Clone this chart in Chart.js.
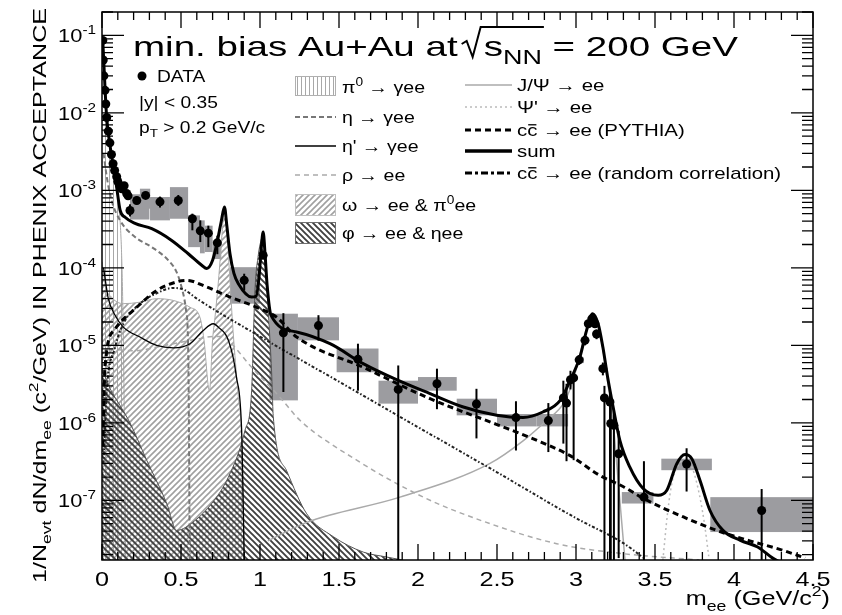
<!DOCTYPE html>
<html>
<head>
<meta charset="utf-8">
<script src="https://cdn.jsdelivr.net/npm/chart.js@4.4.1/dist/chart.umd.min.js"></script>
<style>
  body { margin: 0; background: #fff; }
  canvas { display: block; }
</style>
</head>
<body>
<canvas id="mee" width="842" height="615"></canvas>
<script>
/*-- data --*/

// measured points
var massPts  = [0.005,0.008,0.012,0.019,0.024,0.03,0.04,0.05,0.06,0.07,0.08,0.093,0.1,0.114,0.125,0.133,0.14,0.156,0.165,0.177,0.22,0.276,0.367,0.483,0.572,0.622,0.673,0.73,0.9,1.02,1.148,1.37,1.62,1.875,2.12,2.37,2.62,2.825,2.92,2.94,2.965,2.985,3.02,3.057,3.078,3.10,3.12,3.13,3.17,3.18,3.215,3.22,3.24,3.27,3.43,3.70,4.175];
var yieldPts = [8.6e-2,4.8e-2,3.0e-2,1.95e-2,1.3e-2,8.7e-3,5.8e-3,4.1e-3,2.9e-3,2.2e-3,1.8e-3,1.5e-3,1.3e-3,1.15e-3,1.05e-3,1.1e-3,1.15e-3,9.1e-4,8.5e-4,5.5e-4,7.4e-4,8.6e-4,7.1e-4,7.4e-4,4.3e-4,3.0e-4,2.8e-4,2.1e-4,6.9e-5,1.45e-4,1.45e-5,1.8e-5,6.6e-6,2.7e-6,3.2e-6,1.75e-6,1.17e-6,1.07e-6,2.1e-6,1.8e-6,3.6e-6,3.8e-6,6.5e-6,1.16e-5,1.9e-5,2.2e-5,1.9e-5,1.4e-5,5.0e-6,2.1e-6,1.86e-6,9.8e-7,9.3e-7,4.0e-7,1.1e-7,2.95e-7,7.4e-8];
var statHi   = [null,null,null,null,null,null,null,null,null,null,null,null,null,null,null,null,null,null,null,6.6e-4,8.3e-4,9.5e-4,8.3e-4,8.7e-4,5.0e-4,4.1e-4,3.5e-4,2.6e-4,8.4e-5,1.6e-4,2.6e-5,2.45e-5,1.05e-5,5.5e-6,5.0e-6,2.75e-6,1.9e-6,1.8e-6,3.5e-6,3.2e-6,4.7e-6,4.4e-6,7.5e-6,1.3e-5,2.1e-5,2.4e-5,2.1e-5,1.6e-5,6.0e-6,3.0e-6,2.5e-6,1.7e-6,1.45e-6,7.9e-7,3.2e-7,4.7e-7,1.4e-7];
var statLo   = [null,null,null,null,null,null,null,null,null,null,null,null,null,null,null,null,null,null,null,4.6e-4,6.6e-4,7.8e-4,6.0e-4,6.3e-4,3.05e-4,2.15e-4,1.85e-4,1.5e-4,5.1e-5,1.3e-4,2.5e-6,1.15e-5,2.6e-6,1e-9,1.5e-6,6.3e-7,4.4e-7,4.2e-7,5.4e-7,3.2e-7,2.7e-6,3.3e-7,5.6e-6,1.0e-5,1.7e-5,2.0e-5,1.7e-5,1.2e-5,4.1e-6,1e-9,1e-9,1e-9,1e-9,1.8e-8,1e-9,1.3e-7,1e-9];

// systematic boxes
var sysMassLo = [0.177,0.24,0.304,0.43,0.545,0.62,0.65,0.70,0.81,1.06,1.24,1.485,1.75,2.0,2.245,2.5,2.75,3.0,3.29,3.54,3.85];
var sysMassHi = [0.30,0.305,0.43,0.545,0.62,0.65,0.70,0.755,1.0,1.24,1.5,1.75,2.0,2.245,2.5,2.75,2.95,3.05,3.49,3.86,4.5];
var sysHi     = [8.9e-4,1.05e-3,8.2e-4,1.1e-3,4.75e-4,4.1e-4,3.5e-4,2.26e-4,1.02e-4,2.56e-5,2.3e-5,9.1e-6,3.5e-6,3.9e-6,2.05e-6,1.3e-6,1.3e-6,7.0e-6,1.28e-7,3.45e-7,1.1e-7];
var sysLo     = [4.2e-4,5.8e-4,4.1e-4,4.3e-4,1.85e-4,1.54e-4,1.6e-4,1.3e-4,3.45e-5,1.95e-6,1.16e-5,4.5e-6,1.77e-6,2.6e-6,1.25e-6,9.0e-7,9.0e-7,5.9e-6,9.1e-8,2.45e-7,3.9e-8];

// cocktail components
var pi0M = [0.0,0.005,0.01,0.02,0.03,0.05,0.07,0.09,0.105,0.12,0.13,0.14,0.15];
var pi0Y = [9.5e-2,8.0e-2,5.0e-2,1.9e-2,8.3e-3,3.7e-3,1.9e-3,1.1e-3,6.5e-4,2.5e-4,5e-5,2e-6,1.7e-8];

var etaM = [0.01,0.03,0.06,0.114,0.209,0.315,0.42,0.47,0.504,0.53,0.545,0.55,0.555];
var etaY = [3.0e-3,1.5e-3,7.5e-4,4.1e-4,2.5e-4,1.85e-4,1.25e-4,9e-5,5.6e-5,3.0e-5,1.0e-5,1e-6,1.7e-8];

var etapM = [0.01,0.04,0.08,0.135,0.24,0.346,0.451,0.557,0.641,0.704,0.736,0.8,0.85,0.886,0.9];
var etapY = [1.0e-4,4.0e-5,2.5e-5,1.72e-5,1.28e-5,1.0e-5,9.3e-6,1.05e-5,1.56e-5,1.9e-5,1.72e-5,1.16e-5,4e-6,5.9e-7,1.7e-8];

var rhoM = [0.05,0.2,0.4,0.6,0.7,0.77,0.83,0.937,1.127,1.253,1.612,2.034,2.456,2.878,3.3,3.78];
var rhoY = [9e-6,8.5e-6,1.0e-5,1.2e-5,1.3e-5,1.3e-5,1.0e-5,5.5e-6,2.13e-6,1.08e-6,3.3e-7,1.1e-7,5.0e-8,2.76e-8,2.05e-8,1.7e-8];

var omegaM = [0.0,0.02,0.06,0.135,0.24,0.346,0.451,0.557,0.62,0.645,0.68,0.70,0.715,0.74,0.76,0.775,0.79,0.805,0.83,0.86,0.884,0.9];
var omegaY = [1.2e-4,6.0e-5,4.2e-5,3.45e-5,3.6e-5,4.0e-5,3.8e-5,3.1e-5,2.3e-5,1.2e-5,2.6e-6,1.2e-5,2.3e-5,8e-5,2.8e-4,5.8e-4,3.5e-4,1.0e-4,1.5e-5,2.5e-6,5.9e-7,1.7e-8];

var phiM = [0.0,0.05,0.12,0.177,0.283,0.41,0.473,0.589,0.694,0.8,0.905,0.947,0.968,0.99,1.005,1.02,1.035,1.05,1.074,1.084,1.169,1.296,1.464,1.654,1.8,1.9];
var phiY = [5e-6,2.8e-6,1.6e-6,1.0e-6,3.3e-7,9.1e-8,4.1e-8,5.5e-8,9.1e-8,2.0e-7,8.0e-7,2.6e-6,5.1e-5,1.5e-4,2.2e-4,2.7e-4,1.5e-4,3.5e-5,4.3e-6,1.2e-6,2.4e-7,6.7e-8,3.4e-8,2.15e-8,1.86e-8,1.7e-8];

var jpsiM = [1.05,1.296,1.886,2.456,2.667,2.815,2.92,2.97,3.02,3.06,3.1,3.14,3.17,3.2,3.235,3.27,3.31];
var jpsiY = [3.0e-8,5.2e-8,1.1e-7,3.0e-7,5.9e-7,1.08e-6,1.77e-6,3.0e-6,6.8e-6,1.45e-5,2.4e-5,1.8e-5,9.0e-6,3.4e-6,1.0e-6,1.5e-7,1.7e-8];

var psipM = [3.55,3.58,3.61,3.65,3.69,3.73,3.77,3.81,3.84];
var psipY = [1.7e-8,7e-8,1.8e-7,2.9e-7,3.3e-7,2.8e-7,1.5e-7,5.5e-8,1.9e-8];

var ccM = [0.005,0.019,0.08,0.22,0.346,0.473,0.536,0.663,0.81,0.979,1.106,1.232,1.654,2.076,2.5,2.73,2.96,3.15,3.3,3.43,3.68,3.89,4.1,4.3,4.45];
var ccY = [5e-7,5.2e-6,1.6e-5,3.1e-5,5.1e-5,6.6e-5,6.9e-5,5.65e-5,4.2e-5,3.1e-5,2.3e-5,1.28e-5,5.2e-6,2.05e-6,9.5e-7,6.2e-7,3.8e-7,2.1e-7,1.5e-7,1.05e-7,6.1e-8,4.1e-8,3.0e-8,2.3e-8,1.8e-8];

var rcM = [0.01,0.03,0.08,0.135,0.24,0.346,0.45,0.52,0.6,1.0,1.5,2.0,2.5,3.0,3.3,3.43];
var rcY = [3e-7,2.6e-6,9e-6,1.9e-5,3.45e-5,4.7e-5,5.5e-5,5.2e-5,4.0e-5,1.3e-5,3.4e-6,8.8e-7,2.3e-7,5.9e-8,2.8e-8,1.8e-8];

var sumM = [0.005,0.02,0.03,0.05,0.07,0.09,0.115,0.146,0.209,0.315,0.441,0.546,0.631,0.663,0.7,0.73,0.755,0.775,0.79,0.81,0.835,0.863,0.947,0.975,0.995,1.008,1.02,1.032,1.045,1.07,1.232,1.443,1.653,1.864,2.076,2.287,2.498,2.665,2.79,2.9,2.962,3.025,3.067,3.105,3.14,3.17,3.2,3.235,3.278,3.34,3.425,3.52,3.575,3.638,3.69,3.733,3.785,3.848,3.93,4.04,4.15,4.25,4.35];
var sumY = [8.6e-2,1.9e-2,8.5e-3,3.9e-3,2.1e-3,1.2e-3,5.5e-4,4.5e-4,3.75e-4,3.2e-4,2.26e-4,1.52e-4,1.08e-4,9.8e-5,1.25e-4,2.2e-4,4.0e-4,6.1e-4,3.5e-4,1.52e-4,8.5e-5,6.25e-5,4.2e-5,4.3e-5,8e-5,1.8e-4,2.9e-4,1.5e-4,6e-5,2.44e-5,1.49e-5,1.05e-5,5.8e-6,3.6e-6,2.38e-6,1.6e-6,1.25e-6,1.17e-6,1.38e-6,1.95e-6,3.5e-6,7.1e-6,1.56e-5,2.56e-5,1.9e-5,9.5e-6,3.9e-6,1.6e-6,5.9e-7,2.7e-7,1.42e-7,1.16e-7,1.35e-7,2.97e-7,3.9e-7,3.45e-7,1.8e-7,7.4e-8,4.1e-8,3.05e-8,2.5e-8,1.77e-8,1.4e-8];

// axis
var xTickLabels = ["0","0.5","1","1.5","2","2.5","3","3.5","4","4.5"];
var yDecades = [-7,-6,-5,-4,-3,-2,-1];


/*-- look --*/
var FONT = '"Liberation Sans", Arial, Helvetica, sans-serif';
var SX = 1.2;   // the reference is stretched sideways

function hatch(w, h, color, lw, draw) {
    var c = document.createElement('canvas');
    c.width = w; c.height = h;
    var g = c.getContext('2d');
    g.strokeStyle = color;
    g.lineWidth = lw;
    g.beginPath();
    draw(g);
    g.stroke();
    return g.createPattern(c, 'repeat');
}
var patPi0 = hatch(4, 4, '#a8a8a8', 1, function(g){ g.moveTo(1.5,0); g.lineTo(1.5,4); });
var patOmega = hatch(6, 6, '#a0a0a0', 1.6, function(g){
    g.moveTo(0,6); g.lineTo(6,0); g.moveTo(-3,3); g.lineTo(3,-3); g.moveTo(3,9); g.lineTo(9,3);
});
var patPhi = hatch(6, 6, '#404040', 1.9, function(g){
    g.moveTo(0,0); g.lineTo(6,6); g.moveTo(-3,3); g.lineTo(3,9); g.moveTo(3,-3); g.lineTo(9,3);
});

function curve(xs, ys, opt) {
    var d = {
        data: xs.map(function(x, i){ return {x: x, y: ys[i]}; }),
        showLine: true,
        pointRadius: 0,
        fill: false,
        borderWidth: 1.5,
        cubicInterpolationMode: 'monotone'
    };
    for (var k in opt) d[k] = opt[k];
    return d;
}

// draws a string with _{sub} ^{sup} and #{overlined} pieces
function rich(ctx, str, x, y, size, sx) {
    var parts = str.split(/(_\{[^}]*\}|\^\{[^}]*\}|#\{[^}]*\})/);
    var cx = x;
    parts.forEach(function(p){
        if (!p) return;
        var kind = p.charAt(0), t = p, fs = size, dy = 0, bar = false;
        if ((kind == '_' || kind == '^' || kind == '#') && p.charAt(1) == '{') {
            t = p.slice(2, -1);
            if (kind == '_') { fs = size * 0.7; dy = size * 0.28; }
            if (kind == '^') { fs = size * 0.7; dy = -size * 0.42; }
            if (kind == '#') bar = true;
        }
        ctx.font = fs + 'px ' + FONT;
        var w = ctx.measureText(t).width * sx;
        ctx.save();
        ctx.translate(cx, y + dy);
        ctx.scale(sx, 1);
        ctx.fillText(t, 0, 0);
        ctx.restore();
        if (bar) {
            ctx.save();
            ctx.lineWidth = 1.3;
            ctx.beginPath();
            ctx.moveTo(cx + 1, y - fs * 0.66);
            ctx.lineTo(cx + w - 1, y - fs * 0.66);
            ctx.stroke();
            ctx.restore();
        }
        cx += w;
    });
    return cx - x;
}
function richWidth(ctx, str, size, sx) {
    ctx.save();
    ctx.globalAlpha = 0;
    var w = rich(ctx, str, -9999, -9999, size, sx);
    ctx.restore();
    return w;
}

function legendLine(ctx, x1, x2, y, color, lw, dash) {
    ctx.save();
    ctx.strokeStyle = color;
    ctx.lineWidth = lw;
    ctx.setLineDash(dash || []);
    ctx.beginPath();
    ctx.moveTo(x1, y);
    ctx.lineTo(x2, y);
    ctx.stroke();
    ctx.restore();
}
function legendBox(ctx, x, y, w, h, pat, edge) {
    ctx.save();
    ctx.fillStyle = pat;
    ctx.fillRect(x, y, w, h);
    ctx.strokeStyle = edge;
    ctx.lineWidth = 1;
    ctx.strokeRect(x + 0.5, y + 0.5, w - 1, h - 1);
    ctx.restore();
}

var decor = {
    id: 'decor',
    beforeDatasetsDraw: function(chart) {
        var ctx = chart.ctx, a = chart.chartArea;
        var xs = chart.scales.x, ys = chart.scales.y;
        ctx.save();
        ctx.beginPath(); ctx.rect(a.left, a.top, a.right - a.left, a.bottom - a.top); ctx.clip();
        ctx.fillStyle = '#9c9ca0';
        for (var i = 0; i < sysMassLo.length; i++) {
            var x1 = xs.getPixelForValue(sysMassLo[i]), x2 = xs.getPixelForValue(sysMassHi[i]);
            var y1 = ys.getPixelForValue(sysHi[i]), y2 = ys.getPixelForValue(sysLo[i]);
            ctx.fillRect(x1, y1, x2 - x1, y2 - y1);
        }
        ctx.restore();
    },
    afterDatasetsDraw: function(chart) {
        var ctx = chart.ctx, a = chart.chartArea;
        var xs = chart.scales.x, ys = chart.scales.y;
        ctx.save();
        ctx.beginPath(); ctx.rect(a.left, a.top, a.right - a.left, a.bottom - a.top); ctx.clip();
        ctx.strokeStyle = '#000';
        ctx.lineWidth = 2;
        for (var i = 0; i < massPts.length; i++) {
            if (statHi[i] == null) continue;
            var px = xs.getPixelForValue(massPts[i]);
            var top = ys.getPixelForValue(statHi[i]);
            var bot = Math.min(ys.getPixelForValue(statLo[i]), a.bottom + 5);
            ctx.beginPath(); ctx.moveTo(px, top); ctx.lineTo(px, bot); ctx.stroke();
        }
        ctx.restore();
    },
    afterDraw: function(chart) {
        var ctx = chart.ctx, a = chart.chartArea;
        var xs = chart.scales.x, ys = chart.scales.y;
        ctx.save();
        ctx.fillStyle = '#000';
        ctx.strokeStyle = '#000';

        // frame + inward ticks on all sides
        ctx.lineWidth = 1.5;
        ctx.strokeRect(a.left, a.top, a.right - a.left, a.bottom - a.top);
        ctx.lineWidth = 1.3;
        ctx.beginPath();
        for (var i = 0; i <= 45; i++) {
            var px = xs.getPixelForValue(i / 10);
            var len = (i % 5 == 0) ? 16 : 8;
            ctx.moveTo(px, a.bottom); ctx.lineTo(px, a.bottom - len);
            ctx.moveTo(px, a.top); ctx.lineTo(px, a.top + len);
        }
        for (var e = -8; e <= -1; e++) {
            for (var k = 1; k <= 9; k++) {
                var v = k * Math.pow(10, e);
                if (v < ys.min || v > ys.max) continue;
                var py = ys.getPixelForValue(v);
                var l = (k == 1) ? 22 : 11;
                ctx.moveTo(a.left, py); ctx.lineTo(a.left + l, py);
                ctx.moveTo(a.right, py); ctx.lineTo(a.right - l, py);
            }
        }
        ctx.stroke();

        // tick labels
        xTickLabels.forEach(function(lab){
            var px = xs.getPixelForValue(parseFloat(lab));
            var w = richWidth(ctx, lab, 21, SX);
            rich(ctx, lab, px - w / 2, 586, 21, SX);
        });
        yDecades.forEach(function(e){
            var py = ys.getPixelForValue(Math.pow(10, e));
            var s = '10^{-' + (-e) + '}';
            var w = richWidth(ctx, s, 19, 1.15);
            rich(ctx, s, 96 - w, py + 7, 19, 1.15);
        });

        // axis titles
        var xt = 'm_{ee} (GeV/c^{2})';
        var xw = richWidth(ctx, xt, 21, SX);
        rich(ctx, xt, 830 - xw, 605, 21, SX);

        var yt = '1/N_{evt} dN/dm_{ee} (c^{2}/GeV) IN PHENIX ACCEPTANCE';
        var yw = richWidth(ctx, yt, 19, 1);
        ctx.save();
        ctx.translate(46, 583);
        ctx.rotate(-Math.PI / 2);
        rich(ctx, yt, 0, 0, 19, 575 / yw);
        ctx.restore();

        // headline, stretched to run from x=133 to x=738
        var t1 = 'min. bias Au+Au at', t2 = 's_{NN}', t3 = ' = 200 GeV';
        var nat = richWidth(ctx, t1, 28, 1) + richWidth(ctx, t2, 28, 1) + richWidth(ctx, t3, 28, 1);
        var tsx = (738 - 133 - 26) / nat;
        var w1 = rich(ctx, t1, 133, 56, 28, tsx);
        var sx0 = 133 + w1 + 4;
        ctx.lineWidth = 2;
        ctx.beginPath();
        ctx.moveTo(sx0, 44); ctx.lineTo(sx0 + 5, 41); ctx.lineTo(sx0 + 11, 57);
        ctx.lineTo(sx0 + 19, 27);
        var tail = rich(ctx, t2, sx0 + 22, 56, 28, tsx);
        ctx.lineTo(sx0 + 22 + tail + 2, 27);
        ctx.stroke();
        rich(ctx, t3, sx0 + 22 + tail, 56, 28, tsx);

        // data legend
        ctx.beginPath(); ctx.arc(142, 76, 4.5, 0, 2 * Math.PI); ctx.fill();
        rich(ctx, 'DATA', 157, 82, 16, SX);
        rich(ctx, '|y| < 0.35', 139, 108, 16, SX);
        rich(ctx, 'p_{T} > 0.2 GeV/c', 139, 133, 16, SX);

        // cocktail legend, left column
        legendBox(ctx, 295, 76, 41, 20, patPi0, '#b0b0b0');
        legendLine(ctx, 295, 336, 117, '#777', 2.2, [5, 3]);
        legendLine(ctx, 295, 336, 146, '#000', 1.5);
        legendLine(ctx, 295, 336, 175, '#aaa', 1.5, [5, 4]);
        legendBox(ctx, 295, 194, 41, 22, patOmega, '#c0c0c0');
        legendBox(ctx, 295, 222, 41, 22, patPhi, '#707070');
        rich(ctx, 'π^{0} → γee', 342, 93, 17, 1.15);
        rich(ctx, 'η → γee', 342, 123, 17, 1.15);
        rich(ctx, "η' → γee", 342, 152, 17, 1.15);
        rich(ctx, 'ρ → ee', 342, 181, 17, 1.15);
        rich(ctx, 'ω → ee & π^{0}ee', 342, 211, 17, 1.15);
        rich(ctx, 'φ → ee & ηee', 342, 239, 17, 1.15);

        // right column
        legendLine(ctx, 465, 512, 85, '#aaa', 1.5);
        legendLine(ctx, 465, 512, 107, '#bbb', 1.5, [2, 3]);
        legendLine(ctx, 465, 512, 130, '#000', 3, [6, 4]);
        legendLine(ctx, 465, 512, 151, '#000', 3.5);
        legendLine(ctx, 465, 512, 173, '#000', 3, [7, 3, 3, 3]);
        rich(ctx, 'J/Ψ → ee', 517, 91, 17, SX);
        rich(ctx, "Ψ' → ee", 517, 113, 17, SX);
        rich(ctx, 'c#{c} → ee (PYTHIA)', 517, 136, 17, SX);
        rich(ctx, 'sum', 517, 157, 17, SX);
        rich(ctx, 'c#{c} → ee (random correlation)', 517, 179, 17, SX);

        ctx.restore();
    }
};

var ctx = document.getElementById('mee').getContext('2d');
var myChart = new Chart(ctx, {
    type: 'scatter',
    data: {
        datasets: [
            {
                label: 'DATA',
                data: massPts.map(function(m, i){ return {x: m, y: yieldPts[i]}; }),
                pointRadius: 4.5,
                pointBackgroundColor: '#000',
                pointBorderWidth: 0,
                showLine: false,
                order: 0
            },
            curve(sumM, sumY, {label: 'sum', borderColor: '#000', borderWidth: 3, order: 1}),
            curve(ccM, ccY, {label: 'cc PYTHIA', borderColor: '#000', borderWidth: 3, borderDash: [6, 4], order: 2}),
            curve(rcM, rcY, {label: 'cc random', borderColor: '#222', borderWidth: 2, borderDash: [3, 2, 1.5, 2], order: 3}),
            curve(etapM, etapY, {label: "eta'", borderColor: '#000', borderWidth: 1.3, order: 4}),
            curve(etaM, etaY, {label: 'eta', borderColor: '#777', borderWidth: 2, borderDash: [5, 3], order: 5}),
            curve(rhoM, rhoY, {label: 'rho', borderColor: '#aaa', borderWidth: 1.5, borderDash: [5, 4], order: 6}),
            curve(jpsiM, jpsiY, {label: 'J/psi', borderColor: '#aaa', borderWidth: 1.5, order: 7}),
            curve(psipM, psipY, {label: "psi'", borderColor: '#bbb', borderWidth: 1.5, borderDash: [2, 3], order: 8}),
            curve(phiM, phiY, {label: 'phi', borderColor: '#555', borderWidth: 1, fill: 'start', backgroundColor: patPhi, order: 9}),
            curve(omegaM, omegaY, {label: 'omega', borderColor: '#aaa', borderWidth: 1, fill: 'start', backgroundColor: patOmega, order: 10}),
            curve(pi0M, pi0Y, {label: 'pi0', borderColor: '#aaa', borderWidth: 1, fill: 'start', backgroundColor: patPi0, order: 11})
        ]
    },
    options: {
        responsive: false,
        animation: false,
        devicePixelRatio: 1,
        layout: { padding: { left: 102, top: 12, right: 29, bottom: 55 } },
        plugins: {
            legend: { display: false },
            tooltip: { enabled: false }
        },
        scales: {
            x: { type: 'linear', min: 0, max: 4.5, display: false },
            y: { type: 'logarithmic', min: 1.7e-8, max: 0.2, display: false }
        }
    },
    plugins: [decor]
});
</script>
</body>
</html>
